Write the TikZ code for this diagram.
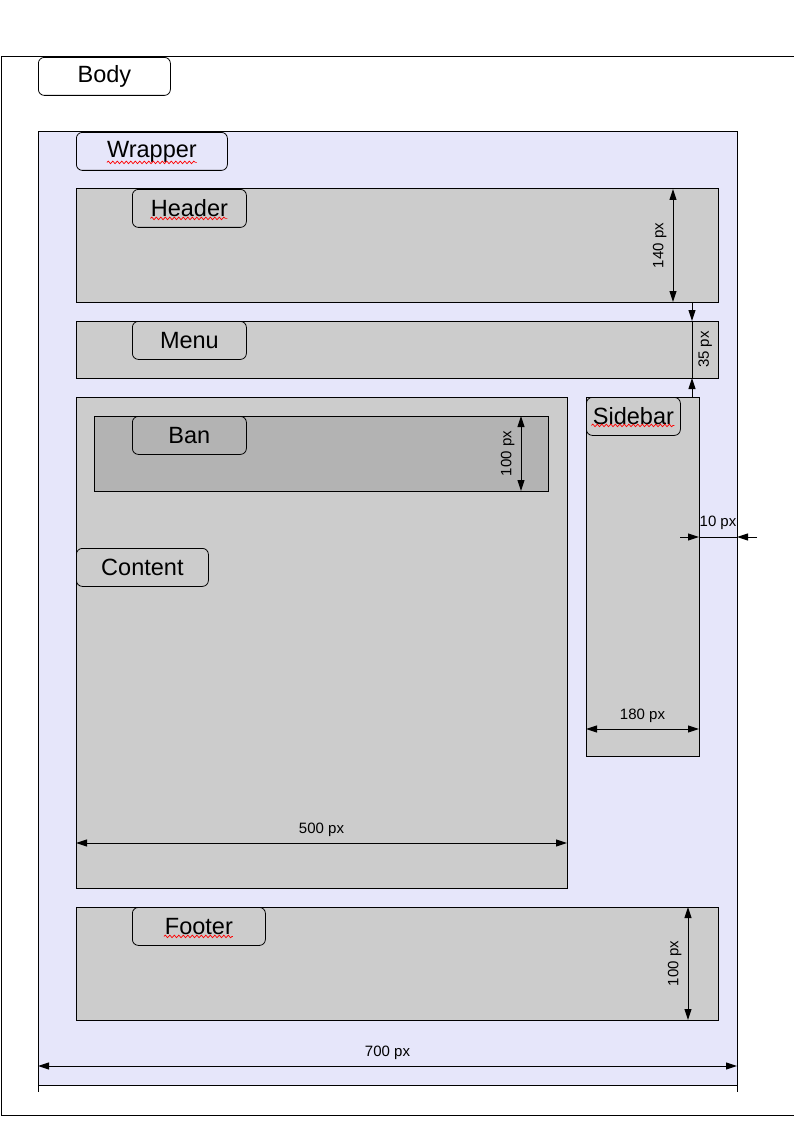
\documentclass[tikz,border=0pt]{standalone}
\usepackage{fontspec}
\setmainfont{Liberation Sans}
\usetikzlibrary{arrows.meta, decorations.pathmorphing}
\definecolor{wrapbg}{RGB}{230,230,250}
\definecolor{boxgray}{RGB}{204,204,204}
\definecolor{bangray}{RGB}{179,179,179}

\begin{document}
\begin{tikzpicture}[
  x=1pt, y=-1pt,
  every node/.style={font=\fontsize{15}{18}\selectfont},
  blk/.style={draw, line width=1pt, fill=boxgray, anchor=north west, inner sep=0pt, outer sep=0pt},
  tag/.style={draw, rounded corners=6pt, line width=0.8pt, anchor=north west, inner sep=0pt,
              minimum height=38pt, font=\fontsize{23.5}{26}\selectfont},
  dimline/.style={line width=1pt, {Triangle[length=11pt,width=7pt]}-{Triangle[length=11pt,width=7pt]}},
  onetip/.style={line width=1pt, -{Triangle[length=11pt,width=7pt]}},
  dimlbl/.style={inner sep=6pt},
  wave/.style={red, line width=0.7pt, decorate, decoration={snake, amplitude=1.3pt, segment length=4.5pt}}
]
\useasboundingbox (0,0) rectangle (794,1123);
% Body (runs off the right edge)
\draw[line width=1pt] (800,57) -| (1,1115) -- (800,1115);
% Blocks: name/x/y/width/height/fill
\foreach \nm/\x/\y/\w/\h/\clr in {
  wrapper/38/132/699/953/wrapbg, header/76/189/642/113/boxgray, menu/76/321/642/57/boxgray,
  content/76/397/491/491/boxgray, ban/94/416/454/75/bangray, sidebar/586/397/113/359/boxgray,
  footer/76/907/642/113/boxgray}{
  \node[blk, fill=\clr, minimum width=\w pt, minimum height=\h pt] (\nm) at (\x,\y) {};
}
% Name tags
\foreach \nm/\x/\y/\w/\txt in {
  body/38/57/132/Body, wrapper/76/132/151/Wrapper, header/132/189/114/Header,
  menu/132/321/114/Menu, ban/132/416/114/Ban, content/76/548/132/Content,
  sidebar/586/397/94/Sidebar, footer/132/907/133/Footer}{
  \node[tag, minimum width=\w pt] (\nm-tag) at (\x,\y) {\txt};
}
% spell-check squiggles
\draw[wave] ([shift={(-45,11)}]wrapper-tag.center) -- ([shift={(45,11)}]wrapper-tag.center);
\draw[wave] ([shift={(-39,10)}]header-tag.center) -- ([shift={(38,10)}]header-tag.center);
\draw[wave] ([shift={(-42,9)}]sidebar-tag.center) -- ([shift={(41,9)}]sidebar-tag.center);
\draw[wave] ([shift={(-35,10)}]footer-tag.center) -- ([shift={(34,10)}]footer-tag.center);

% Header height
\coordinate (hd1) at (673,189); \coordinate (hd2) at (673,302);
\draw[dimline] (hd1) -- node[dimlbl, rotate=90, anchor=south] {140 px} (hd2);
% Menu height (arrows from outside)
\coordinate (md0) at (692,302); \coordinate (md1) at (692,321);
\coordinate (md2) at (692,378); \coordinate (md3) at (692,397);
\draw[onetip] (md0) -- (md1);
\draw[line width=1pt] (md1) -- node[dimlbl, rotate=90, anchor=north, inner sep=6pt] {35 px} (md2);
\draw[onetip] (md3) -- (md2);
% Ban height
\coordinate (bd1) at (521,416); \coordinate (bd2) at (521,491);
\draw[dimline] (bd1) -- node[dimlbl, rotate=90, anchor=south] {100 px} (bd2);
% Content width
\coordinate (cd1) at (76,843); \coordinate (cd2) at (567,843);
\draw[dimline] (cd1) -- node[dimlbl, anchor=south] {500 px} (cd2);
% Sidebar width
\coordinate (sd1) at (586,729); \coordinate (sd2) at (699,729);
\draw[dimline] (sd1) -- node[dimlbl, anchor=south] {180 px} (sd2);
% Gap sidebar / wrapper
\coordinate (gd0) at (680,537); \coordinate (gd1) at (699,537);
\coordinate (gd2) at (737,537); \coordinate (gd3) at (757,537);
\draw[onetip] (gd0) -- (gd1);
\draw[line width=1pt] (gd1) -- node[dimlbl, anchor=south, inner sep=7pt] {10 px} (gd2);
\draw[onetip] (gd3) -- (gd2);
% Footer height
\coordinate (fd1) at (688,907); \coordinate (fd2) at (688,1020);
\draw[dimline] (fd1) -- node[dimlbl, rotate=90, anchor=south] {100 px} (fd2);
% Wrapper width
\coordinate (wx1) at (38,1092); \coordinate (wx2) at (737,1092);
\draw[line width=1pt] (wrapper.south west) -- (wx1);
\draw[line width=1pt] (wrapper.south east) -- (wx2);
\coordinate (wd1) at (38,1066); \coordinate (wd2) at (737,1066);
\draw[dimline] (wd1) -- node[dimlbl, anchor=south] {700 px} (wd2);
\end{tikzpicture}
\end{document}
